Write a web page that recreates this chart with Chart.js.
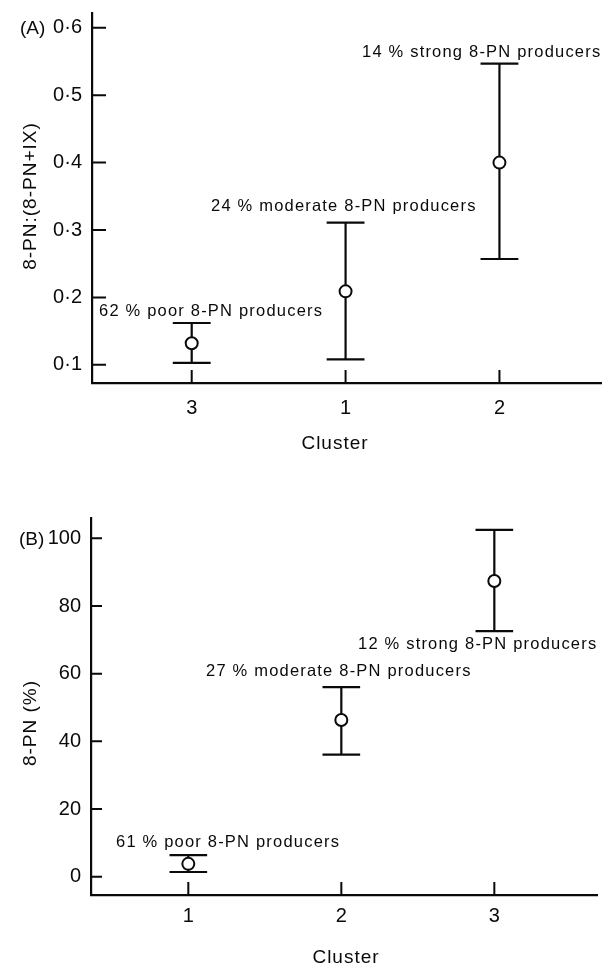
<!DOCTYPE html>
<html>
<head>
<meta charset="utf-8">
<script src="https://cdn.jsdelivr.net/npm/chart.js@4.4.1/dist/chart.umd.min.js"></script>
<style>
  body { margin: 0; background: #fff; width: 609px; height: 963px; position: relative; overflow: hidden; }
  canvas { position: absolute; left: 0; }
  #chartA { top: 0; }
  #chartB { top: 470px; }
</style>
</head>
<body>
<canvas id="chartA" width="609" height="470"></canvas>
<canvas id="chartB" width="609" height="493"></canvas>
<script>
// panel A: 8-PN:(8-PN+IX) ratio per cluster
const clustersA = ['3', '1', '2'];
const meanA = [0.132, 0.209, 0.400];
const lowA = [0.103, 0.108, 0.257];
const highA = [0.162, 0.311, 0.547];
const notesA = ['62 % poor 8-PN producers', '24 % moderate 8-PN producers', '14 % strong 8-PN producers'];

// panel B: 8-PN (%) per cluster
const clustersB = ['1', '2', '3'];
const meanB = [3.8, 46.3, 87.4];
const lowB = [1.4, 36.1, 72.6];
const highB = [6.4, 56.0, 102.5];
const notesB = ['61 % poor 8-PN producers', '27 % moderate 8-PN producers', '12 % strong 8-PN producers'];

const INK = '#0a0a0a';
const FAMILY = '"Liberation Sans", Arial, Helvetica, sans-serif';
Chart.defaults.font.family = FAMILY;
Chart.defaults.color = INK;

// error bar segments (caps + stem), gaps split them
function whiskers(low, high, cap) {
  const pts = [];
  low.forEach((lo, i) => {
    const hi = high[i];
    pts.push({x: i - cap, y: hi}, {x: i + cap, y: hi}, {x: i, y: null});
    pts.push({x: i, y: hi}, {x: i, y: lo}, {x: i, y: null});
    pts.push({x: i - cap, y: lo}, {x: i + cap, y: lo}, {x: i, y: null});
  });
  return pts;
}

const inwardTicks = {
  id: 'inwardTicks',
  afterDraw(chart, args, opts) {
    const {ctx, chartArea: a, scales: {x, y}} = chart;
    ctx.save();
    ctx.strokeStyle = INK;
    ctx.lineWidth = 2;
    ctx.beginPath();
    y.ticks.forEach(t => {
      const p = y.getPixelForValue(t.value);
      ctx.moveTo(a.left, p);
      ctx.lineTo(a.left + opts.yLen, p);
    });
    x.ticks.forEach(t => {
      const p = x.getPixelForValue(t.value);
      ctx.moveTo(p, a.bottom);
      ctx.lineTo(p, a.bottom - opts.xLen);
    });
    ctx.stroke();
    ctx.restore();
  }
};

const texts = {
  id: 'texts',
  afterDraw(chart, args, opts) {
    const ctx = chart.ctx;
    opts.items.forEach(t => {
      ctx.save();
      ctx.fillStyle = INK;
      ctx.font = t.font;
      ctx.letterSpacing = (t.spacing || 0) + 'px';
      ctx.textAlign = t.align || 'left';
      ctx.textBaseline = 'alphabetic';
      ctx.translate(t.x, t.y);
      if (t.rotate) ctx.rotate(t.rotate);
      ctx.fillText(t.text, 0, 0);
      ctx.restore();
    });
  }
};

function buildChart(id, p) {
  return new Chart(document.getElementById(id), {
    type: 'scatter',
    data: {
      datasets: [
        {
          label: 'mean',
          data: p.mean.map((v, i) => ({x: i, y: v})),
          pointRadius: 6,
          pointBackgroundColor: '#fff',
          pointBorderColor: INK,
          pointBorderWidth: 2
        },
        {
          label: 'range',
          data: whiskers(p.low, p.high, 0.123),
          showLine: true,
          spanGaps: false,
          borderColor: INK,
          borderWidth: 2.2,
          pointRadius: 0
        }
      ]
    },
    options: {
      responsive: false,
      animation: false,
      layout: { padding: p.padding },
      plugins: {
        legend: { display: false },
        tooltip: { enabled: false },
        inwardTicks: p.ticks,
        texts: { items: p.texts }
      },
      scales: {
        x: {
          type: 'linear',
          min: p.xMin, max: p.xMax,
          grid: { drawOnChartArea: false, drawTicks: false },
          border: { color: INK, width: 2.2 },
          ticks: {
            stepSize: 1, includeBounds: false, padding: p.xPad,
            font: { size: 20 }, color: INK,
            callback: v => p.cats[v] ?? ''
          },
          afterFit: s => { s.height = p.xHeight; s.paddingLeft = 0; s.paddingRight = 0; }
        },
        y: {
          min: p.yMin, max: p.yMax,
          grid: { drawOnChartArea: false, drawTicks: false },
          border: { color: INK, width: 2.2 },
          ticks: {
            stepSize: p.step, includeBounds: false, padding: 10,
            font: { size: 20 }, color: INK,
            callback: p.fmt
          },
          afterFit: s => { s.width = p.yWidth; s.paddingTop = 0; s.paddingBottom = 0; }
        }
      }
    },
    plugins: [inwardTicks, texts]
  });
}

const noteFont = '16.5px ' + FAMILY;
const titleFont = '19px ' + FAMILY;

const chartA = buildChart('chartA', {
  cats: clustersA, mean: meanA, low: lowA, high: highA,
  xMin: -0.648, xMax: 2.66, yMin: 0.073, yMax: 0.622, step: 0.1,
  fmt: v => v.toFixed(1).replace('.', '\u00b7'),
  padding: { top: 13, right: 4, left: 0, bottom: 0 },
  yWidth: 92, xHeight: 87, xPad: 13,
  ticks: { xLen: 13, yLen: 14 },
  texts: [
    { text: notesA[2], x: 362, y: 57, font: noteFont, spacing: 1.2 },
    { text: notesA[1], x: 211, y: 211, font: noteFont, spacing: 1.2 },
    { text: notesA[0], x: 99, y: 316, font: noteFont, spacing: 1.2 },
    { text: '(A)', x: 20, y: 34, font: '19px ' + FAMILY },
    { text: 'Cluster', x: 335, y: 449, font: titleFont, align: 'center', spacing: 1 },
    { text: '8-PN:(8-PN+IX)', x: 36, y: 196, font: titleFont, align: 'center', spacing: 1, rotate: -Math.PI / 2 }
  ]
});

const chartB = buildChart('chartB', {
  cats: clustersB, mean: meanB, low: lowB, high: highB,
  xMin: -0.636, xMax: 2.671, yMin: -5.4, yMax: 106, step: 20,
  fmt: v => v,
  padding: { top: 48, right: 12, left: 0, bottom: 0 },
  yWidth: 91, xHeight: 68, xPad: 9,
  ticks: { xLen: 13, yLen: 11 },
  texts: [
    { text: notesB[2], x: 358, y: 179, font: noteFont, spacing: 1.2 },
    { text: notesB[1], x: 206, y: 206, font: noteFont, spacing: 1.2 },
    { text: notesB[0], x: 116, y: 377, font: noteFont, spacing: 1.2 },
    { text: '(B)', x: 19, y: 75, font: '19px ' + FAMILY },
    { text: 'Cluster', x: 346, y: 493, font: titleFont, align: 'center', spacing: 1 },
    { text: '8-PN (%)', x: 36, y: 253, font: titleFont, align: 'center', spacing: 1, rotate: -Math.PI / 2 }
  ]
});
</script>
</body>
</html>
